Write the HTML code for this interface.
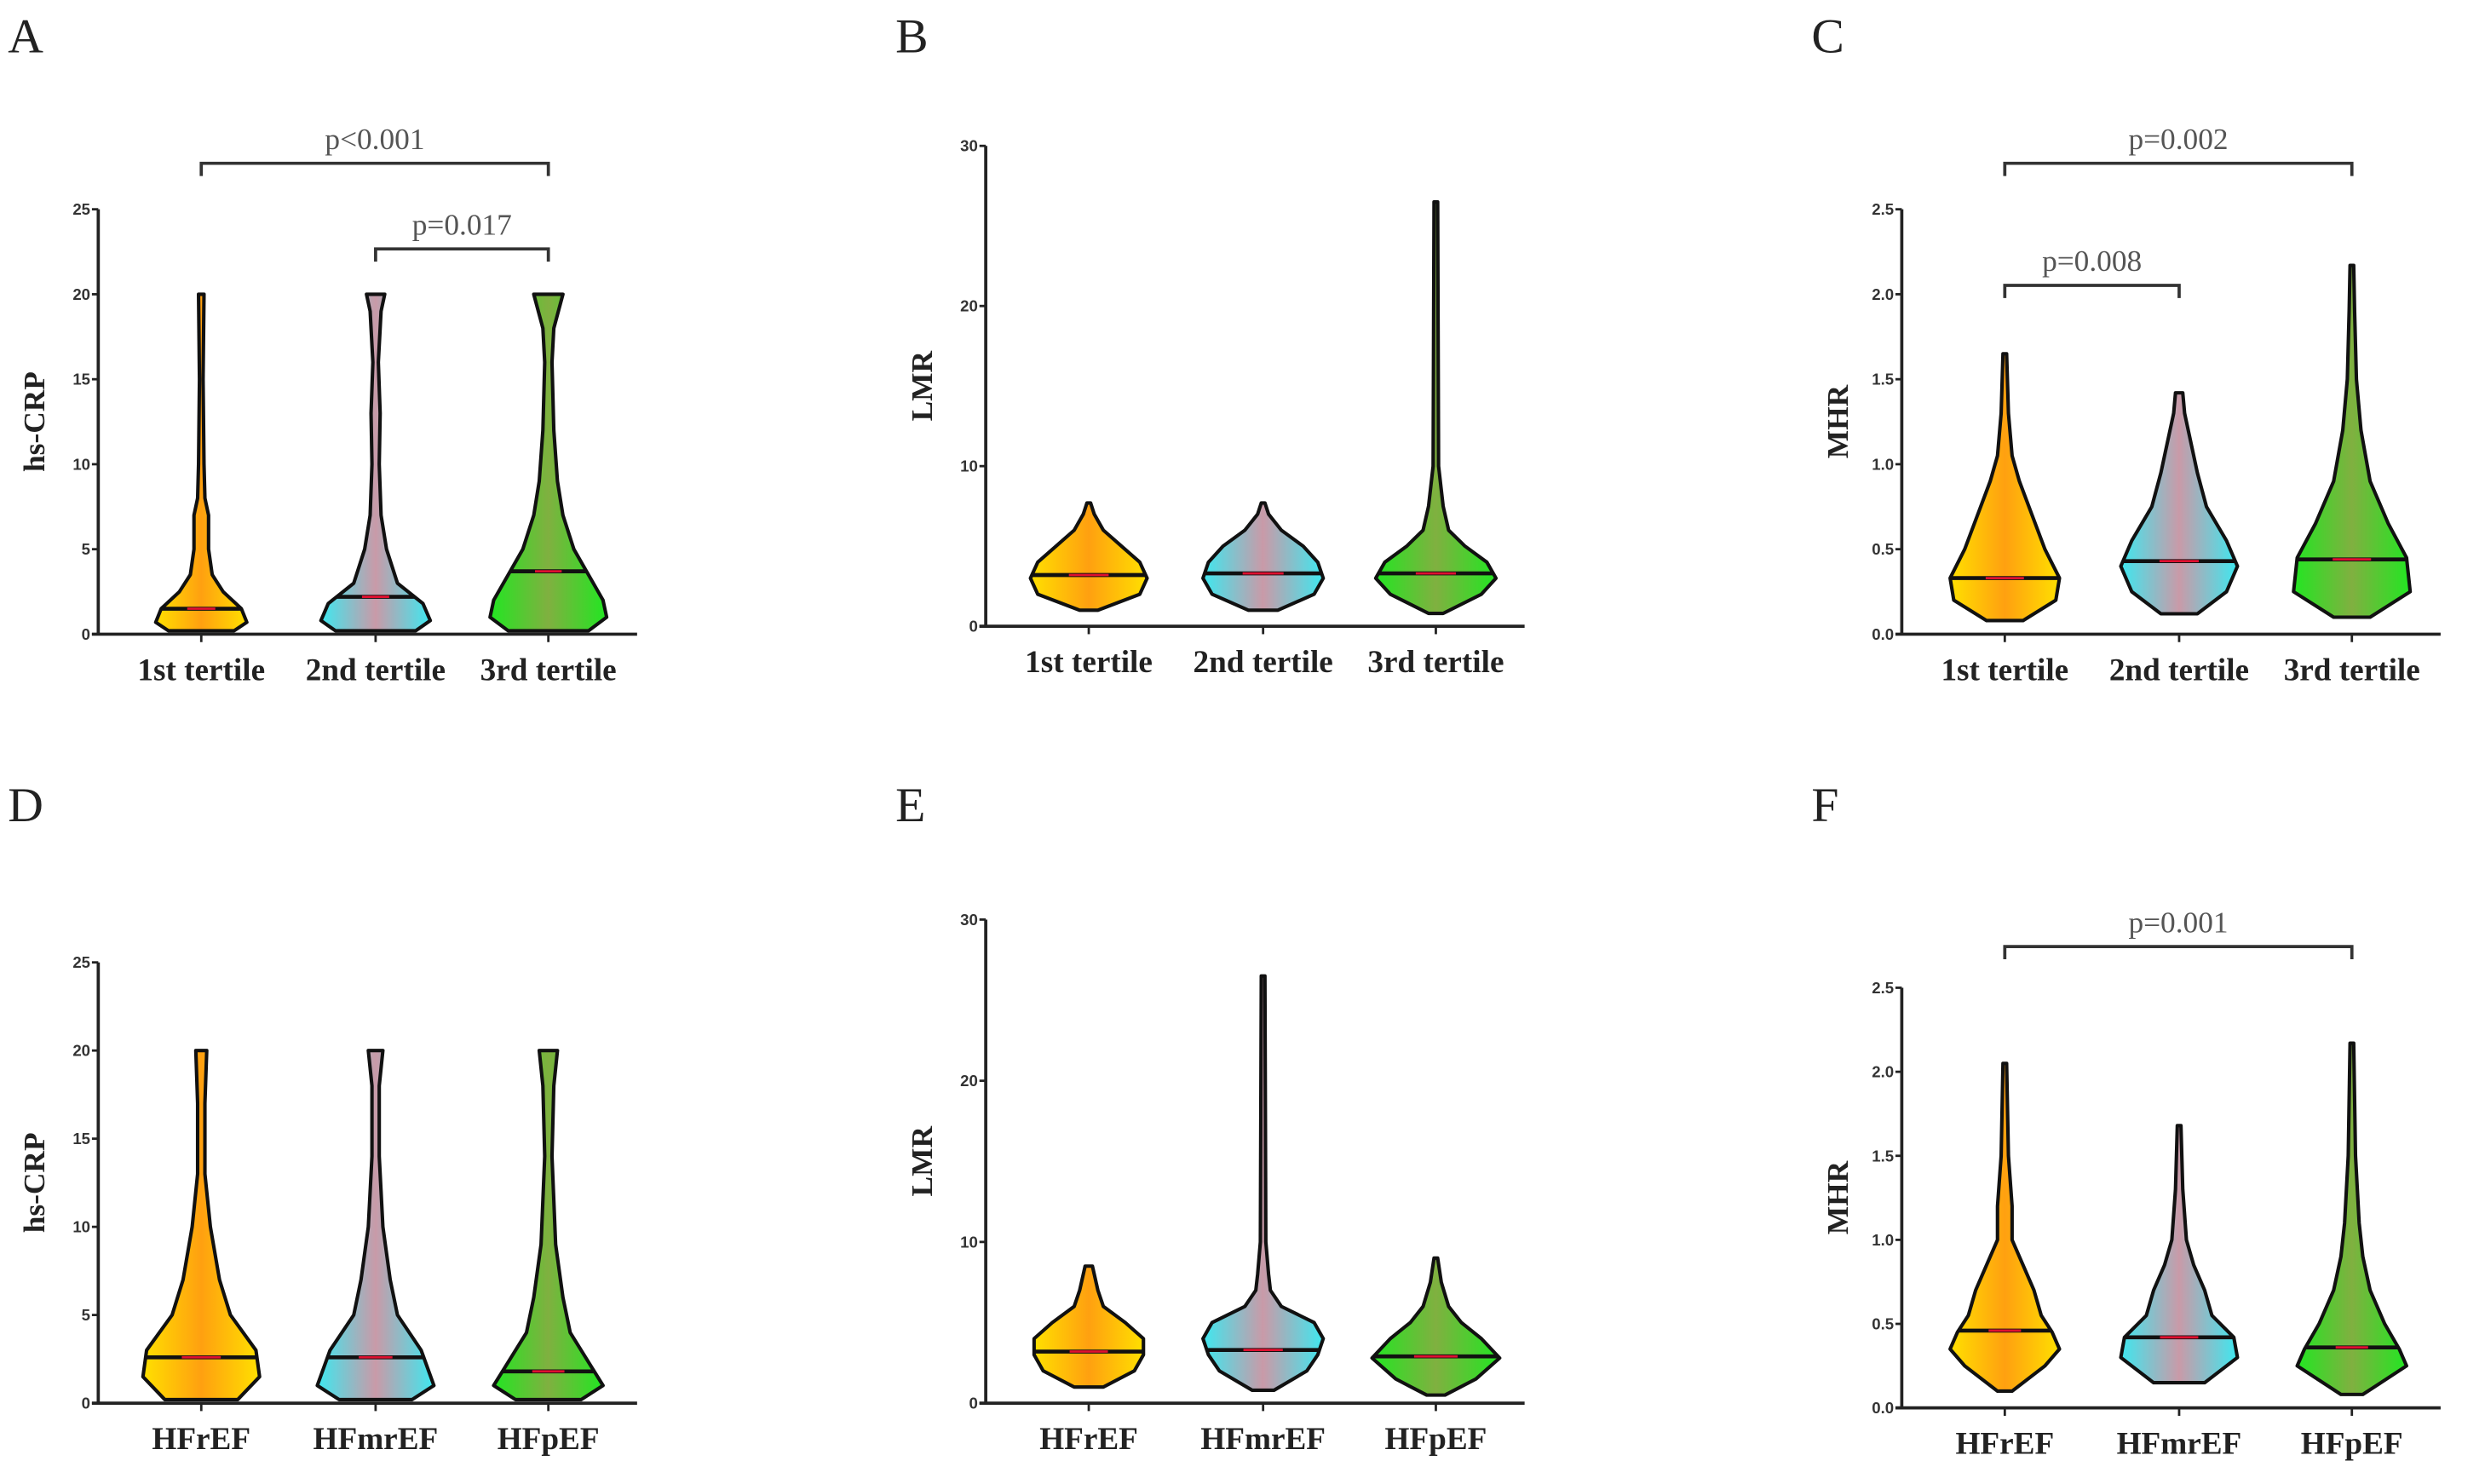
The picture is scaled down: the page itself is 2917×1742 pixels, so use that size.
<!DOCTYPE html>
<html><head><meta charset="utf-8">
<style>
html,body{margin:0;padding:0;background:#fff;}
svg{display:block;}
.tick{font-family:"Liberation Sans",sans-serif;font-weight:bold;font-size:10px;fill:#333;}
.cat{font-family:"Liberation Serif",serif;font-weight:bold;font-size:20px;fill:#222;}
.ytitle{font-family:"Liberation Serif",serif;font-weight:bold;font-size:19px;fill:#222;}
.letter{font-family:"Liberation Serif",serif;font-size:31px;fill:#222;}
.pval{font-family:"Liberation Serif",serif;font-size:19px;fill:#555;}
</style></head>
<body>
<svg id="fig" width="2917" height="1742" viewBox="0 0 1568 936" preserveAspectRatio="none" xmlns="http://www.w3.org/2000/svg">
<defs>
<linearGradient id="gY" x1="0" y1="0" x2="1" y2="0"><stop offset="0" stop-color="#ffe000"/><stop offset="0.5" stop-color="#ffa010"/><stop offset="1" stop-color="#ffe000"/></linearGradient>
<linearGradient id="gC" x1="0" y1="0" x2="1" y2="0"><stop offset="0" stop-color="#3ee8f0"/><stop offset="0.5" stop-color="#c99aa8"/><stop offset="1" stop-color="#3ee8f0"/></linearGradient>
<linearGradient id="gG" x1="0" y1="0" x2="1" y2="0"><stop offset="0" stop-color="#22e622"/><stop offset="0.5" stop-color="#80b040"/><stop offset="1" stop-color="#22e622"/></linearGradient>
</defs>
</svg>
<script>
// ---- data ----
const tertileCats = ["1st tertile","2nd tertile","3rd tertile"];
const efCats = ["HFrEF","HFmrEF","HFpEF"];
const crpTicks = [0,5,10,15,20,25];
const lmrTicks = [0,10,20,30];
const mhrTicks = [0,0.5,1.0,1.5,2.0,2.5];
const mhrTickLabels = ["0.0","0.5","1.0","1.5","2.0","2.5"];
// violin profiles: [value, relative density]
const A1 = [[0.2,18],[0.7,25],[1.5,22],[2.5,12],[3.5,6],[5,4],[7,4],[8,2],[10,1.5],[15,1],[20,1.5]];
const A2 = [[0.2,22],[0.8,30],[1.8,26],[3,12],[5,6],[7,3],[10,2],[13,2.5],[16,1.5],[19,3],[20,5]];
const A3 = [[0.2,22],[1,32],[2,30],[3.5,22],[5,14],[7,8],[9,5],[12,3],[16,2],[18,3],[20,8]];
const A_medians = [1.5,2.2,3.7];
const B1 = [[1,5],[2,28],[3,32],[4,28],[5,18],[6,8],[7,3],[7.7,1]];
const B2 = [[1,8],[2,28],[3,33],[4,30],[5,22],[6,10],[7,3],[7.7,1]];
const B3 = [[0.8,4],[2,25],[3,33],[4,28],[5,16],[6,7],[7.5,4],[8.5,3],[10,1.5],[26.5,1]];
const B_medians = [3.2,3.3,3.3];
const C1 = [[0.08,10],[0.2,28],[0.33,30],[0.5,22],[0.7,15],[0.9,8],[1.05,4],[1.3,2],[1.65,1]];
const C2 = [[0.12,10],[0.25,26],[0.4,32],[0.55,26],[0.75,15],[0.95,10],[1.1,7],[1.3,3],[1.42,2]];
const C3 = [[0.1,10],[0.25,32],[0.45,30],[0.65,20],[0.9,10],[1.2,5],[1.5,2.5],[1.9,1.5],[2.17,1]];
const C_medians = [0.33,0.43,0.44];
const D1 = [[0.2,20],[1.5,32],[3,30],[5,16],[7,10],[10,5],[13,2],[17,2],[20,3]];
const D2 = [[0.2,20],[1,32],[3,25],[5,12],[7,8],[10,4],[14,2],[18,2],[20,4]];
const D3 = [[0.2,18],[1,30],[2,24],[4,12],[6,8],[9,4],[14,2],[18,3],[20,5]];
const D_medians = [2.6,2.6,1.8];
const E1 = [[1,8],[2,25],[3,30],[4,30],[5,20],[6,8],[7,5],[8.5,2]];
const E2 = [[0.8,6],[2,24],[3,30],[4,33],[5,28],[6,10],[7,4],[8,3],[10,1.5],[26.5,1]];
const E3 = [[0.5,5],[1.5,22],[2.8,35],[4,25],[5,14],[6,7],[7.5,3],[9,1]];
const E_medians = [3.2,3.3,2.9];
const F1 = [[0.1,4],[0.25,22],[0.35,30],[0.45,26],[0.55,20],[0.7,16],[0.85,10],[1,4],[1.2,4],[1.5,2],[2.05,1]];
const F2 = [[0.15,14],[0.3,32],[0.42,30],[0.55,18],[0.7,14],[0.85,8],[1.0,4],[1.3,2],[1.68,1]];
const F3 = [[0.08,6],[0.25,30],[0.35,26],[0.5,18],[0.7,10],[0.9,6],[1.1,4],[1.5,2],[2.17,1]];
const F_medians = [0.46,0.42,0.36];
const pA = [["p<0.001",0,2],["p=0.017",1,2]];
const pC = [["p=0.002",0,2],["p=0.008",0,1]];
const pF = [["p=0.001",0,2]];

// ---- layout ----
const NS="http://www.w3.org/2000/svg";
const svg=document.getElementById('fig');
function mk(tag,attrs,parent){const e=document.createElementNS(NS,tag);for(const k in attrs)e.setAttribute(k,attrs[k]);(parent||svg).appendChild(e);return e;}
const fills=["url(#gY)","url(#gC)","url(#gG)"];

function panel(cfg){
  const g=mk('g',{});
  
  
  const y=v=>cfg.y0-(v/cfg.max)*(cfg.y0-cfg.yTop);
  const xc=[cfg.ax+65,cfg.ax+175,cfg.ax+284];
  const L=mk('text',{x:cfg.ax-57,y:cfg.letterY,class:'letter'},g);L.textContent=cfg.letter;
  
  
  const ya=mk('line',{x1:cfg.ax,y1:cfg.yTop,x2:cfg.ax,y2:cfg.y0,stroke:'#222','stroke-width':2},g);
  
  
  const xa=mk('line',{x1:cfg.ax-4,y1:cfg.y0,x2:cfg.ax+340,y2:cfg.y0,stroke:'#222','stroke-width':2},g);
  
  
  cfg.ticks.forEach((t,i)=>{
    mk('line',{x1:cfg.ax-4,y1:y(t),x2:cfg.ax,y2:y(t),stroke:'#222','stroke-width':1.5},g);
    const tx=mk('text',{x:cfg.ax-5,y:y(t)+3.5,'text-anchor':'end',class:'tick'},g);
    tx.textContent=cfg.tickLabels?cfg.tickLabels[i]:t;
    
    
  });
  const yt=mk('text',{x:0,y:0,class:'ytitle','text-anchor':'middle',transform:`translate(${cfg.ax-34},${(cfg.y0+cfg.yTop)/2}) rotate(-90)`},g);
  yt.textContent=cfg.title;
  
  
  cfg.cats.forEach((c,i)=>{
    mk('line',{x1:xc[i],y1:cfg.y0,x2:xc[i],y2:cfg.y0+5,stroke:'#222','stroke-width':1.5},g);
    const t=mk('text',{x:xc[i],y:cfg.y0+29,'text-anchor':'middle',class:'cat'},g);t.textContent=c;
    
    
  });
  cfg.violins.forEach((prof,i)=>{
    const s=1.15;
    let right=prof.map(p=>[xc[i]+p[1]*s,y(p[0])]);
    let left=prof.slice().reverse().map(p=>[xc[i]-p[1]*s,y(p[0])]);
    const d='M'+right.map(p=>p.join(',')).join(' L')+' L'+left.map(p=>p.join(',')).join(' L')+' Z';
    const v=mk('path',{d:d,fill:fills[i],stroke:'#111','stroke-width':2.2,'stroke-linejoin':'round'},g);
    
    
    const m=cfg.medians[i];let w=prof[0][1];
    for(let k=0;k<prof.length-1;k++){if(m>=prof[k][0]&&m<=prof[k+1][0]){const f=(m-prof[k][0])/(prof[k+1][0]-prof[k][0]);w=prof[k][1]+f*(prof[k+1][1]-prof[k][1]);}}
    const ml=mk('line',{x1:xc[i]-w*s,x2:xc[i]+w*s,y1:y(m),y2:y(m),stroke:'#111','stroke-width':2.5},g);
    
    
    mk('line',{x1:xc[i]-w*s*0.35,x2:xc[i]+w*s*0.35,y1:y(m),y2:y(m),stroke:'#e01030','stroke-width':1.5},g);
  });
  (cfg.pvals||[]).forEach((p,k)=>{
    const by=cfg.brackets[k];
    const a=xc[p[1]],b=xc[p[2]];
    const br=mk('path',{d:`M${a},${by+8} L${a},${by} L${b},${by} L${b},${by+8}`,fill:'none',stroke:'#333','stroke-width':2},g);
    
    
    const t=mk('text',{x:(a+b)/2,y:by-9,'text-anchor':'middle',class:'pval'},g);t.textContent=p[0];
    
    
  });
}
panel({letter:'A',ax:62,yTop:132,y0:400,max:25,ticks:crpTicks,title:'hs-CRP',cats:tertileCats,violins:[A1,A2,A3],medians:A_medians,letterY:33,pvals:pA,brackets:[103,157]});
panel({letter:'B',ax:622,yTop:92,y0:395,max:30,ticks:lmrTicks,title:'LMR',cats:tertileCats,violins:[B1,B2,B3],medians:B_medians,letterY:33});
panel({letter:'C',ax:1200,yTop:132,y0:400,max:2.5,ticks:mhrTicks,tickLabels:mhrTickLabels,title:'MHR',cats:tertileCats,violins:[C1,C2,C3],medians:C_medians,letterY:33,pvals:pC,brackets:[103,180]});
panel({letter:'D',ax:62,yTop:607,y0:885,max:25,ticks:crpTicks,title:'hs-CRP',cats:efCats,violins:[D1,D2,D3],medians:D_medians,letterY:518});
panel({letter:'E',ax:622,yTop:580,y0:885,max:30,ticks:lmrTicks,title:'LMR',cats:efCats,violins:[E1,E2,E3],medians:E_medians,letterY:518});
panel({letter:'F',ax:1200,yTop:623,y0:888,max:2.5,ticks:mhrTicks,tickLabels:mhrTickLabels,title:'MHR',cats:efCats,violins:[F1,F2,F3],medians:F_medians,letterY:518,pvals:pF,brackets:[597]});
</script>
</body></html>
